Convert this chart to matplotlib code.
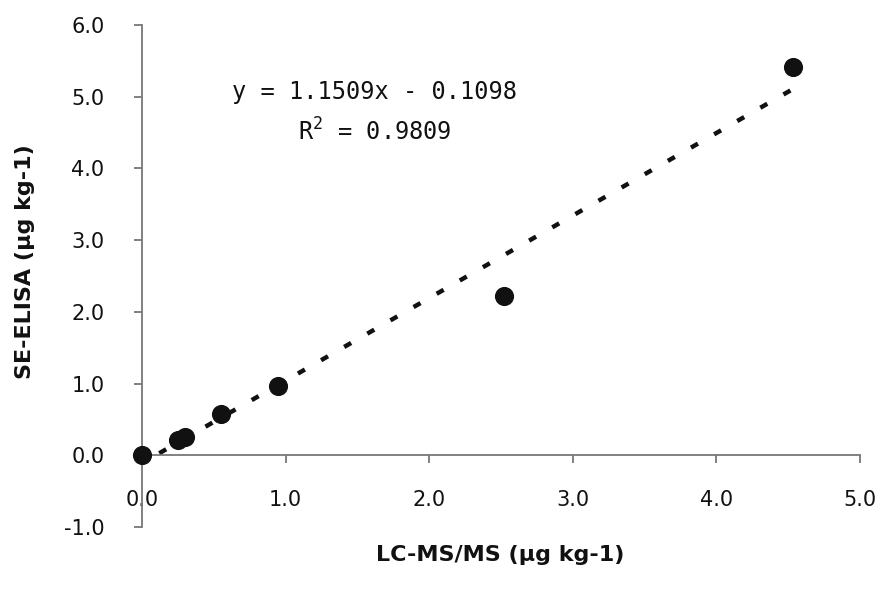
import matplotlib
matplotlib.use("Agg")
import matplotlib.pyplot as plt
import numpy as np

plt.rcParams['mathtext.fontset'] = 'custom'
plt.rcParams['mathtext.rm'] = 'DejaVu Sans Mono'
plt.rcParams['mathtext.it'] = 'DejaVu Sans Mono'

lcms = [0.0, 0.25, 0.30, 0.55, 0.95, 2.52, 4.53]
elisa = [0.0, 0.22, 0.26, 0.58, 0.97, 2.22, 5.42]
slope = 1.1509
intercept = -0.1098
r2 = 0.9809
xticks = [0.0, 1.0, 2.0, 3.0, 4.0, 5.0]
yticks = [-1.0, 0.0, 1.0, 2.0, 3.0, 4.0, 5.0, 6.0]

MONO = 'DejaVu Sans Mono'

fig = plt.figure(figsize=(8.82, 5.98), dpi=100)
ax = fig.add_axes([142/882, 1-527/598, 718/882, 502/598])

xl = np.array([0.12, max(lcms)])
ax.plot(xl, slope*xl + intercept, color='#111111', lw=3.2, linestyle=(0, (1.8, 4.2)),
        dash_capstyle='butt', zorder=2)
ax.scatter(lcms, elisa, s=190, color='#111111', zorder=3, clip_on=False, linewidths=0)

ax.set_xlim(0, 5)
ax.set_ylim(-1, 6)
ax.set_xticks(xticks)
ax.set_yticks(yticks)
ax.set_xticklabels([f"{v:.1f}" for v in xticks], family=MONO)
ax.set_yticklabels([f"{v:.1f}" for v in yticks], family=MONO)

for s in ['top', 'right']:
    ax.spines[s].set_visible(False)
ax.spines['bottom'].set_position(('data', 0))
ax.spines['left'].set_position(('data', 0))
for s in ['bottom', 'left']:
    ax.spines[s].set_color('#777777')
    ax.spines[s].set_linewidth(1.3)

ax.tick_params(axis='both', direction='out', length=6, width=1.3, color='#777777',
               labelsize=15, labelcolor='#111111')
ax.tick_params(axis='y', pad=21)
ax.tick_params(axis='x', pad=19)

ax.text(1.62, 5.07, f"y = {slope:.4f}x - {abs(intercept):.4f}", ha='center', va='center',
        fontsize=17, family=MONO, color='#111111')
ax.text(1.62, 4.51, r"R$^{2}$ = " + f"{r2:.4f}", ha='center', va='center', fontsize=17,
        family=MONO, color='#111111')

fig.text(500/882, 1-555/598, "LC-MS/MS (µg kg-1)", ha='center', va='center', fontsize=16,
         fontweight='bold', color='#111111')
fig.text(25/882, 1-262/598, "SE-ELISA (µg kg-1)", ha='center', va='center', rotation=90,
         fontsize=16, fontweight='bold', color='#111111')

fig.savefig("out.png", dpi=100)
